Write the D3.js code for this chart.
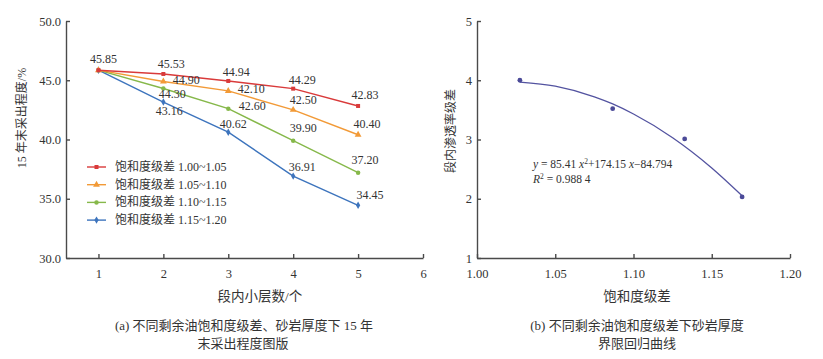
<!DOCTYPE html>
<html><head><meta charset="utf-8">
<script src="https://cdn.jsdelivr.net/npm/d3@7"></script>
<style>
body{margin:0;background:#fff;}
svg{display:block;}
text{font-family:"Liberation Serif","Times New Roman","Noto Sans CJK SC",serif;fill:#333;}
</style></head>
<body>
<script>
// ---------- Data: left panel ----------
const layers = [1, 2, 3, 4, 5];
const seriesNames = ["饱和度级差 1.00~1.05", "饱和度级差 1.05~1.10", "饱和度级差 1.10~1.15", "饱和度级差 1.15~1.20"];
const red = [45.85, 45.53, 44.94, 44.29, 42.83];
const orange = [45.85, 44.90, 44.10, 42.50, 40.40];
const green = [45.85, 44.30, 42.60, 39.90, 37.20];
const blue = [45.85, 43.16, 40.62, 36.91, 34.45];
// label texts as printed in the figure (orange 3rd label printed as 42.10)
const redLabels = ["45.85", "45.53", "44.94", "44.29", "42.83"];
const orangeLabels = ["", "44.90", "42.10", "42.50", "40.40"];
const greenLabels = ["", "44.30", "42.60", "39.90", "37.20"];
const blueLabels = ["", "43.16", "40.62", "36.91", "34.45"];
const leftXTicks = [1, 2, 3, 4, 5, 6];
const leftYTicks = [30, 35, 40, 45, 50];

// ---------- Data: right panel ----------
const satDiff = [1.0274, 1.0867, 1.1327, 1.1694];
const permDiff = [4.00, 3.52, 3.01, 2.03];
// regression curve
const fitX = [1.0274, 1.05, 1.075, 1.0867, 1.10, 1.125, 1.15, 1.1694];
const fitY = [3.97, 3.90, 3.72, 3.60, 3.43, 3.03, 2.52, 2.05];
const rightXTicks = [1.00, 1.05, 1.10, 1.15, 1.20];
const rightYTicks = [1, 2, 3, 4, 5];

const W = 823, H = 359;
const svg = d3.select("body").append("svg").attr("width", W).attr("height", H);

const axisColor = "#4a4a4a";
function styleAxis(g){
  g.selectAll("path,line").attr("stroke", axisColor).attr("stroke-width", 1.4);
  g.selectAll("text").attr("fill", "#333").style("font-size", "12.5px")
    .style("font-family", '"Liberation Serif","Times New Roman",serif');
}

// ================= LEFT PANEL =================
const xL = d3.scaleLinear().domain([0.5, 6]).range([66, 423]);
const yL = d3.scaleLinear().domain([30, 50]).range([258, 21]);

svg.append("g").attr("transform", "translate(0,258)")
  .call(d3.axisBottom(xL).tickValues(leftXTicks).tickSize(-4).tickSizeOuter(0).tickPadding(11).tickFormat(d3.format("d")))
  .call(styleAxis);
svg.append("g").attr("transform", "translate(66,0)")
  .call(d3.axisLeft(yL).tickValues(leftYTicks).tickSize(-4).tickSizeOuter(0).tickPadding(5).tickFormat(d3.format(".1f")))
  .call(styleAxis);

const series = [
  {name: seriesNames[0], vals: red, labels: redLabels, color: "#d93a3a", sym: d3.symbolSquare, size: 16,
   pos: [[5,-7],[8,-6],[8,-5],[9,-5],[7,-7]]},
  {name: seriesNames[1], vals: orange, labels: orangeLabels, color: "#f29a37", sym: d3.symbolTriangle, size: 20,
   pos: [[0,0],[23,3],[23,2],[10,-6],[9,-7]]},
  {name: seriesNames[2], vals: green, labels: greenLabels, color: "#86b84a", sym: d3.symbolCircle, size: 16,
   pos: [[0,0],[9,9],[24,1],[10,-9],[7,-9]]},
  {name: seriesNames[3], vals: blue, labels: blueLabels, color: "#3d74bd", sym: d3.symbolDiamond, size: 16,
   pos: [[0,0],[6,13],[5,-4],[9,-5],[12,-6]]}
];

const line = d3.line().x((d, i) => xL(layers[i])).y(d => yL(d));
// draw in reverse order so red on top
series.slice().reverse().forEach(s => {
  svg.append("path").datum(s.vals).attr("d", line)
    .attr("fill", "none").attr("stroke", s.color).attr("stroke-width", 1.4);
  svg.append("g").selectAll("path").data(s.vals).join("path")
    .attr("d", d3.symbol().type(s.sym).size(s.size))
    .attr("transform", (d, i) => `translate(${xL(layers[i])},${yL(d)})`)
    .attr("fill", s.color);
});
series.forEach(s => {
  svg.append("g").selectAll("text").data(s.vals).join("text")
    .attr("x", (d, i) => xL(layers[i]) + s.pos[i][0])
    .attr("y", (d, i) => yL(d) + s.pos[i][1])
    .attr("text-anchor", "middle")
    .style("font-size", "12px")
    .text((d, i) => s.labels[i]);
});

// legend
const leg = svg.append("g");
series.forEach((s, i) => {
  const y = 167 + i * 17.7;
  leg.append("line").attr("x1", 87).attr("x2", 106).attr("y1", y).attr("y2", y)
    .attr("stroke", s.color).attr("stroke-width", 1.4);
  leg.append("path").attr("d", d3.symbol().type(s.sym).size(s.size))
    .attr("transform", `translate(96.5,${y})`).attr("fill", s.color);
  leg.append("text").attr("x", 115).attr("y", y + 4).style("font-size", "12px").text(s.name);
});

// axis titles
svg.append("text").attr("transform", "translate(26,118) rotate(-90)")
  .attr("text-anchor", "middle").style("font-size", "12px").text("15 年末采出程度/%");
svg.append("text").attr("x", 260).attr("y", 301).attr("text-anchor", "middle")
  .style("font-size", "13.5px").text("段内小层数/个");
svg.append("text").attr("x", 244).attr("y", 330).attr("text-anchor", "middle")
  .style("font-size", "13px").text("(a) 不同剩余油饱和度级差、砂岩厚度下 15 年");
svg.append("text").attr("x", 243).attr("y", 348).attr("text-anchor", "middle")
  .style("font-size", "13px").text("末采出程度图版");

// ================= RIGHT PANEL =================
const xR = d3.scaleLinear().domain([1.0, 1.2]).range([477, 790]);
const yR = d3.scaleLinear().domain([1, 5]).range([258, 21]);

svg.append("g").attr("transform", "translate(0,258)")
  .call(d3.axisBottom(xR).tickValues(rightXTicks).tickSize(-4).tickSizeOuter(0).tickPadding(11).tickFormat(d3.format(".2f")))
  .call(styleAxis);
svg.append("g").attr("transform", "translate(477,0)")
  .call(d3.axisLeft(yR).tickValues(rightYTicks).tickSize(-4).tickSizeOuter(0).tickPadding(5).tickFormat(d3.format("d")))
  .call(styleAxis);

const fitLine = d3.line().x((d, i) => xR(fitX[i])).y(d => yR(d)).curve(d3.curveMonotoneX);
svg.append("path").datum(fitY).attr("d", fitLine)
  .attr("fill", "none").attr("stroke", "#5353a0").attr("stroke-width", 1.3);
svg.append("g").selectAll("circle").data(permDiff).join("circle")
  .attr("cx", (d, i) => xR(satDiff[i])).attr("cy", d => yR(d)).attr("r", 2.4)
  .attr("fill", "#4b4a98");

const eq = svg.append("text").attr("x", 533).attr("y", 168).style("font-size", "11.5px");
eq.append("tspan").style("font-style", "italic").text("y");
eq.append("tspan").text(" = 85.41 ");
eq.append("tspan").style("font-style", "italic").text("x");
eq.append("tspan").attr("dy", -4).style("font-size", "7.5px").text("2");
eq.append("tspan").attr("dy", 4).text("+174.15 ");
eq.append("tspan").style("font-style", "italic").text("x");
eq.append("tspan").text("\u221284.794");
const r2 = svg.append("text").attr("x", 533).attr("y", 183).style("font-size", "11.5px");
r2.append("tspan").style("font-style", "italic").text("R");
r2.append("tspan").attr("dy", -4).style("font-size", "7.5px").text("2");
r2.append("tspan").attr("dy", 4).text(" = 0.988 4");

svg.append("text").attr("transform", "translate(455,131) rotate(-90)")
  .attr("text-anchor", "middle").style("font-size", "12px").text("段内渗透率级差");
svg.append("text").attr("x", 637).attr("y", 301).attr("text-anchor", "middle")
  .style("font-size", "13.5px").text("饱和度级差");
svg.append("text").attr("x", 637).attr("y", 330).attr("text-anchor", "middle")
  .style("font-size", "13px").text("(b) 不同剩余油饱和度级差下砂岩厚度");
svg.append("text").attr("x", 637).attr("y", 348).attr("text-anchor", "middle")
  .style("font-size", "13px").text("界限回归曲线");
</script>
</body></html>
